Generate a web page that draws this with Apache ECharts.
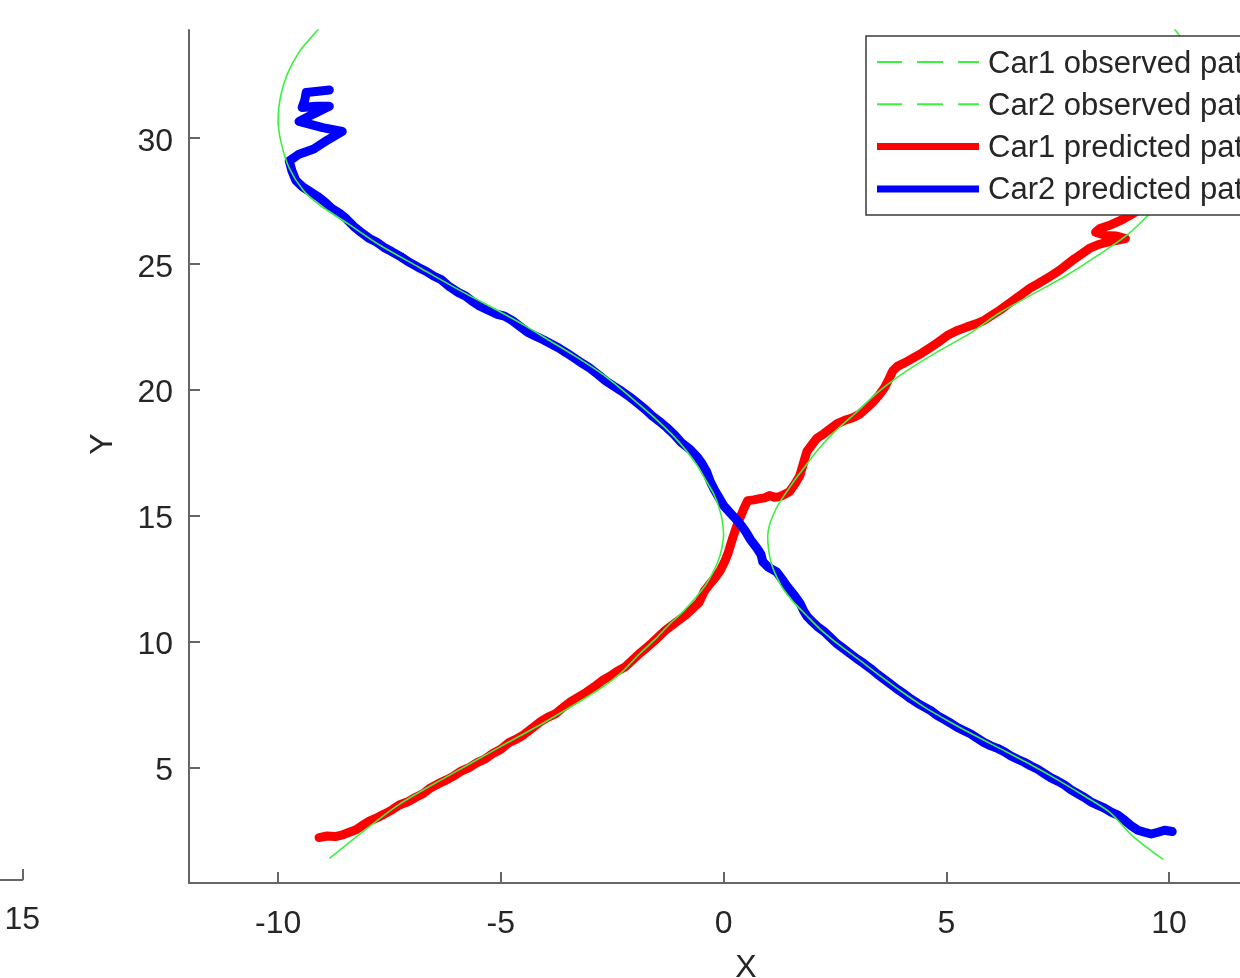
<!DOCTYPE html>
<html>
<head>
<meta charset="utf-8">
<title>Car paths</title>
<script src="https://cdn.jsdelivr.net/npm/echarts@6/dist/echarts.min.js"></script>
<style>
  html, body { margin: 0; padding: 0; background: #fff; }
  #chart { width: 1240px; height: 978px; }
</style>
</head>
<body>
<div id="chart"></div>
<script>
// Legend names
const seriesNames = ['Car1 observed path', 'Car2 observed path', 'Car1 predicted path', 'Car2 predicted path'];

// Axis ticks
const xTicks = [-10, -5, 0, 5, 10];
const yTicks = [5, 10, 15, 20, 25, 30];
const sideTicks = [15];

// Observed path of car 1, [x, y]
const car1Observed = [
  [-8.85, 1.38], [-8.18, 2.33], [-7.28, 3.53], [-6.16, 4.68], [-5.03, 5.8], [-3.91, 6.9],
  [-2.79, 8.1], [-2.3, 8.75], [-1.89, 9.5], [-1.5, 10.15], [-1.21, 10.69], [-0.9, 11.2],
  [-0.62, 11.75], [-0.4, 12.25], [-0.25, 12.7], [-0.12, 13.2], [-0.04, 13.7], [0.0, 14.25],
  [-0.03, 14.8], [-0.1, 15.3], [-0.22, 15.85], [-0.4, 16.4], [-0.6, 17.0], [-0.85, 17.6],
  [-1.15, 18.2], [-1.5, 18.8], [-1.89, 19.4], [-2.35, 20.1], [-2.79, 20.7], [-3.35, 21.35],
  [-3.91, 21.95], [-4.47, 22.55], [-5.03, 23.1], [-5.93, 23.95], [-6.83, 24.85], [-7.73, 25.75],
  [-8.4, 26.55], [-9.08, 27.35], [-9.45, 27.95], [-9.75, 28.8], [-9.93, 29.8], [-10.0, 30.7],
  [-9.95, 31.6], [-9.8, 32.5], [-9.53, 33.4], [-9.2, 34.1], [-8.95, 34.6]
];

// Observed path of car 2, [x, y]
const car2Observed = [
  [9.87, 1.34], [9.19, 2.26], [8.67, 3.21], [8.2, 3.75], [7.5, 4.5], [6.9, 5.1],
  [6.2, 5.75], [5.6, 6.3], [5.08, 6.8], [4.5, 7.4], [3.96, 8.05], [3.5, 8.65],
  [3.06, 9.25], [2.6, 9.85], [2.16, 10.5], [1.85, 11.05], [1.55, 11.6], [1.33, 12.1],
  [1.18, 12.6], [1.07, 13.1], [1.01, 13.65], [0.99, 14.17], [1.03, 14.62], [1.12, 15.05],
  [1.25, 15.5], [1.42, 15.95], [1.6, 16.42], [1.8, 16.88], [2.09, 17.55], [2.45, 18.25],
  [2.95, 19.05], [3.5, 19.95], [4.2, 20.85], [4.85, 21.55], [5.5, 22.2], [6.2, 23.05],
  [6.9, 23.75], [7.71, 24.55], [8.5, 25.45], [9.06, 26.14], [9.57, 27.0], [10.0, 27.9],
  [10.4, 28.9], [10.75, 29.8], [10.95, 30.7], [10.95, 31.6], [10.8, 32.5], [10.5, 33.4],
  [10.13, 34.3], [9.95, 34.7]
];

// Predicted path of car 1, [x, y]
const car1Predicted = [
  [-9.08, 2.21], [-8.9, 2.27], [-8.72, 2.25], [-8.55, 2.32], [-8.4, 2.42], [-8.25, 2.52],
  [-8.1, 2.7], [-7.95, 2.86], [-7.8, 2.98], [-7.62, 3.14], [-7.45, 3.3], [-7.28, 3.5],
  [-7.1, 3.62], [-6.92, 3.8], [-6.75, 3.95], [-6.58, 4.18], [-6.4, 4.35], [-6.22, 4.5],
  [-6.05, 4.66], [-5.88, 4.86], [-5.7, 5.0], [-5.52, 5.2], [-5.35, 5.33], [-5.18, 5.55],
  [-5.0, 5.72], [-4.82, 5.98], [-4.65, 6.12], [-4.48, 6.3], [-4.3, 6.55], [-4.12, 6.8],
  [-3.95, 6.98], [-3.78, 7.12], [-3.6, 7.38], [-3.42, 7.62], [-3.25, 7.8], [-3.08, 7.98],
  [-2.9, 8.2], [-2.72, 8.45], [-2.55, 8.62], [-2.38, 8.82], [-2.2, 9.0], [-2.05, 9.25],
  [-1.9, 9.5], [-1.75, 9.72], [-1.6, 9.95], [-1.45, 10.2], [-1.3, 10.45], [-1.15, 10.65],
  [-1.0, 10.85], [-0.85, 11.05], [-0.7, 11.3], [-0.55, 11.55], [-0.43, 12.0], [-0.3, 12.3],
  [-0.18, 12.55], [-0.08, 12.8], [0.02, 13.15], [0.1, 13.5], [0.2, 14.08], [0.28, 14.5],
  [0.36, 14.87], [0.45, 15.25], [0.54, 15.59], [0.68, 15.62], [0.81, 15.67], [0.92, 15.7],
  [1.03, 15.79], [1.15, 15.72], [1.26, 15.75], [1.38, 15.85], [1.48, 15.95], [1.6, 16.25],
  [1.71, 16.58], [1.78, 17.0], [1.87, 17.54], [2.0, 17.85], [2.09, 18.06], [2.25, 18.25],
  [2.4, 18.45], [2.55, 18.65], [2.72, 18.78], [2.9, 18.88], [3.05, 19.02], [3.2, 19.25],
  [3.35, 19.5], [3.5, 19.8], [3.62, 20.1], [3.72, 20.45], [3.8, 20.75], [3.9, 20.92],
  [4.05, 21.05], [4.25, 21.25], [4.45, 21.45], [4.65, 21.68], [4.85, 21.92], [5.05, 22.18],
  [5.25, 22.35], [5.45, 22.48], [5.65, 22.6], [5.85, 22.75], [6.05, 22.98], [6.2, 23.15],
  [6.38, 23.38], [6.55, 23.6], [6.72, 23.82], [6.88, 24.03], [7.05, 24.2], [7.22, 24.38],
  [7.38, 24.55], [7.55, 24.75], [7.72, 24.98], [7.88, 25.2], [8.05, 25.4], [8.22, 25.62],
  [8.4, 25.75], [8.6, 25.85], [8.8, 25.92], [9.02, 26.0], [8.82, 26.1], [8.58, 26.12],
  [8.35, 26.25], [8.45, 26.4], [8.7, 26.55], [8.95, 26.75], [9.2, 27.0], [9.45, 27.3],
  [9.7, 27.6]
];

// Predicted path of car 2, [x, y]
const car2Predicted = [
  [10.07, 2.45], [9.9, 2.5], [9.75, 2.42], [9.6, 2.35], [9.45, 2.42], [9.3, 2.5],
  [9.15, 2.68], [9.0, 2.9], [8.85, 3.1], [8.7, 3.22], [8.55, 3.38], [8.4, 3.5],
  [8.25, 3.62], [8.1, 3.8], [7.95, 3.95], [7.8, 4.1], [7.65, 4.3], [7.5, 4.45],
  [7.35, 4.58], [7.2, 4.75], [7.05, 4.92], [6.9, 5.05], [6.75, 5.2], [6.6, 5.32],
  [6.45, 5.45], [6.3, 5.62], [6.15, 5.75], [6.0, 5.85], [5.85, 5.98], [5.7, 6.15],
  [5.55, 6.32], [5.4, 6.45], [5.25, 6.58], [5.1, 6.75], [4.95, 6.9], [4.8, 7.05],
  [4.65, 7.25], [4.5, 7.4], [4.35, 7.55], [4.2, 7.72], [4.05, 7.92], [3.9, 8.1],
  [3.75, 8.3], [3.6, 8.5], [3.45, 8.7], [3.3, 8.92], [3.15, 9.12], [3.0, 9.3],
  [2.85, 9.5], [2.7, 9.7], [2.55, 9.9], [2.4, 10.15], [2.25, 10.4], [2.1, 10.6],
  [1.98, 10.8], [1.88, 10.98], [1.8, 11.2], [1.72, 11.5], [1.6, 11.8], [1.42, 12.2],
  [1.3, 12.5], [1.19, 12.76], [1.0, 12.95], [0.88, 13.16], [0.84, 13.45], [0.75, 13.7],
  [0.6, 14.05], [0.5, 14.35], [0.4, 14.6], [0.28, 14.85], [0.15, 15.1], [0.0, 15.4],
  [-0.1, 15.7], [-0.2, 16.0], [-0.3, 16.35], [-0.38, 16.74], [-0.48, 17.05], [-0.58, 17.3],
  [-0.75, 17.62], [-0.95, 17.9], [-1.1, 18.2], [-1.28, 18.5], [-1.45, 18.75], [-1.6, 18.95],
  [-1.75, 19.2], [-1.92, 19.45], [-2.1, 19.7], [-2.3, 19.95], [-2.48, 20.15], [-2.65, 20.35],
  [-2.82, 20.6], [-3.0, 20.85], [-3.18, 21.05], [-3.35, 21.25], [-3.52, 21.45], [-3.7, 21.65],
  [-3.88, 21.82], [-4.05, 21.98], [-4.22, 22.12], [-4.4, 22.28], [-4.58, 22.52], [-4.75, 22.75],
  [-4.92, 22.92], [-5.1, 23.0], [-5.28, 23.15], [-5.48, 23.32], [-5.65, 23.52], [-5.8, 23.72],
  [-5.95, 23.85], [-6.15, 24.08], [-6.35, 24.38], [-6.5, 24.5], [-6.68, 24.7], [-6.85, 24.85],
  [-7.05, 25.05], [-7.25, 25.28], [-7.45, 25.48], [-7.6, 25.62], [-7.78, 25.85], [-7.95, 26.0],
  [-8.12, 26.22], [-8.3, 26.48], [-8.48, 26.8], [-8.62, 27.0], [-8.8, 27.2], [-8.95, 27.45],
  [-9.12, 27.68], [-9.3, 27.88], [-9.45, 28.05], [-9.6, 28.3], [-9.69, 28.69], [-9.75, 29.08],
  [-9.53, 29.35], [-9.2, 29.55], [-8.9, 29.9], [-8.56, 30.25], [-9.0, 30.4], [-9.53, 30.65],
  [-9.2, 30.95], [-8.85, 31.25], [-9.15, 31.25], [-9.46, 31.2], [-9.4, 31.5], [-9.37, 31.8],
  [-9.1, 31.85], [-8.85, 31.9]
];

const FONT = "'Liberation Sans', Arial, Helvetica, sans-serif";
const TEXT = '#262626';
const AXIS = '#666666';
const GREEN = '#3ef03e';

// Legend glyphs: a dashed thin line and a solid thick line.
// The two degenerate corner sub-paths pin the glyph box to 102 x 14.
const DASHED_ICON = 'path://M0,0L0.01,0ZM0,14L0.01,14Z' +
  'M0,6h25v2h-25ZM40,6h26v2h-26ZM81,6h21v2h-21Z';
const SOLID_ICON = 'path://M0,0L0.01,0ZM0,14L0.01,14Z' +
  'M0,3.5h102v7h-102Z';

const chart = echarts.init(document.getElementById('chart'), null, { renderer: 'canvas' });

const axisLineStyle = { show: true, onZero: false, lineStyle: { color: AXIS, width: 2 } };
const tickStyle = (vals) => ({ show: true, inside: true, length: 11, customValues: vals, lineStyle: { color: AXIS, width: 2 } });

chart.setOption({
  backgroundColor: '#ffffff',
  animation: false,
  grid: [
    // main panel
    { left: 189, top: 30, width: 1113.75, height: 853, outerBoundsMode: 'none', containLabel: false },
    // neighbouring panel, only its right end is in view
    { left: -423.2, top: 30, width: 445.5, height: 850, outerBoundsMode: 'none', containLabel: false }
  ],
  xAxis: [
    {
      gridIndex: 0, type: 'value', min: -12, max: 13,
      axisLine: axisLineStyle,
      axisTick: tickStyle(xTicks),
      splitLine: { show: false },
      axisLabel: { customValues: xTicks, margin: 25, fontSize: 32, color: TEXT, fontFamily: FONT },
      name: 'X', nameLocation: 'middle', nameGap: 69,
      nameTextStyle: { fontSize: 32, color: TEXT, fontFamily: FONT }
    },
    {
      gridIndex: 1, type: 'value', min: 5, max: 15,
      axisLine: axisLineStyle,
      axisTick: tickStyle(sideTicks),
      splitLine: { show: false },
      axisLabel: { customValues: sideTicks, margin: 24, fontSize: 32, color: TEXT, fontFamily: FONT }
    }
  ],
  yAxis: [
    {
      gridIndex: 0, type: 'value', min: 0.405, max: 34.28,
      axisLine: axisLineStyle,
      axisTick: tickStyle(yTicks),
      splitLine: { show: false },
      axisLabel: {
        customValues: yTicks, margin: 16,
        formatter: (v) => '{v|' + v + '}',
        rich: { v: { fontSize: 32, color: TEXT, fontFamily: FONT, padding: [8, 0, 0, 0] } }
      },
      name: 'Y', nameLocation: 'middle', nameGap: 70, nameRotate: 90,
      nameTextStyle: { fontSize: 32, color: TEXT, fontFamily: FONT, padding: [0, 0, 0, 25] }
    },
    { gridIndex: 1, type: 'value', min: 0, max: 1, show: false }
  ],
  legend: {
    orient: 'vertical',
    left: 866, top: 36,
    padding: [8.5, 14, 8.5, 11],
    itemGap: 7.3,
    itemWidth: 102,
    itemHeight: 14,
    symbolKeepAspect: false,
    backgroundColor: '#ffffff',
    borderColor: '#3a3a3a',
    borderWidth: 1.5,
    borderRadius: 0,
    formatter: (name) => '{t|' + name + '}',
    textStyle: {
      fontSize: 31, color: TEXT, fontFamily: FONT,
      rich: { t: { fontSize: 31, lineHeight: 31, color: TEXT, fontFamily: FONT, padding: [4, 0, 0, 4] } }
    },
    data: [
      { name: seriesNames[0], icon: DASHED_ICON },
      { name: seriesNames[1], icon: DASHED_ICON },
      { name: seriesNames[2], icon: SOLID_ICON },
      { name: seriesNames[3], icon: SOLID_ICON }
    ]
  },
  series: [
    {
      name: seriesNames[2], type: 'line', xAxisIndex: 0, yAxisIndex: 0,
      data: car1Predicted, showSymbol: false, symbol: 'none', z: 2,
      lineStyle: { color: '#ff0000', width: 9, cap: 'round', join: 'round' },
      itemStyle: { color: '#ff0000' }
    },
    {
      name: seriesNames[3], type: 'line', xAxisIndex: 0, yAxisIndex: 0,
      data: car2Predicted, showSymbol: false, symbol: 'none', z: 2,
      lineStyle: { color: '#0000ff', width: 9, cap: 'round', join: 'round' },
      itemStyle: { color: '#0000ff' }
    },
    {
      name: seriesNames[0], type: 'line', xAxisIndex: 0, yAxisIndex: 0,
      data: car1Observed, showSymbol: false, symbol: 'none', z: 3, smooth: 0.3,
      lineStyle: { color: GREEN, width: 1.6 },
      itemStyle: { color: GREEN }
    },
    {
      name: seriesNames[1], type: 'line', xAxisIndex: 0, yAxisIndex: 0,
      data: car2Observed, showSymbol: false, symbol: 'none', z: 3, smooth: 0.3,
      lineStyle: { color: GREEN, width: 1.6 },
      itemStyle: { color: GREEN }
    }
  ]
});
</script>
</body>
</html>
